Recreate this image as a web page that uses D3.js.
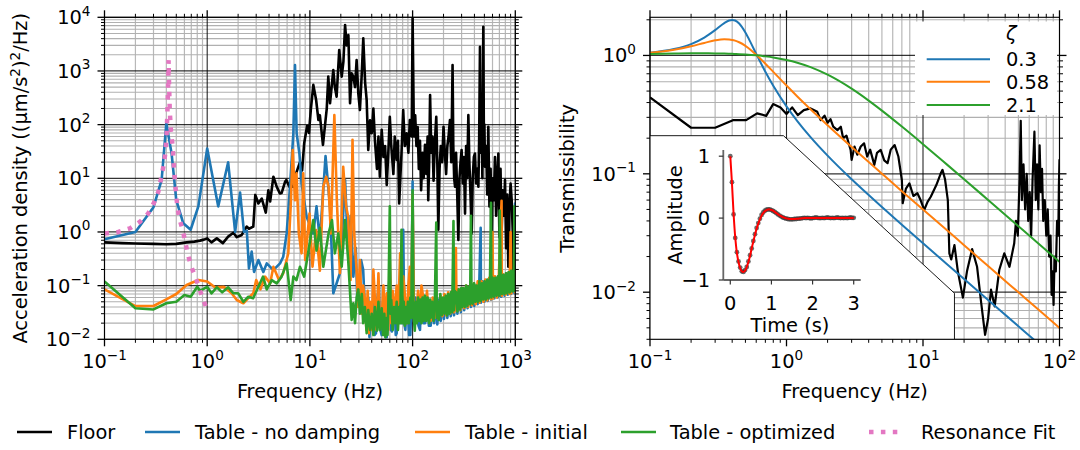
<!DOCTYPE html>
<html><head><meta charset="utf-8">
<script src="https://cdn.jsdelivr.net/npm/d3@7"></script>
<style>body{margin:0;background:#fff} text{font-family:"DejaVu Sans",sans-serif;fill:#000}</style>
</head><body><svg id="c" width="1080" height="450" xmlns="http://www.w3.org/2000/svg"></svg>
<script>
// ---------------- DATA ----------------
// Left panel: acceleration PSD, [frequency Hz, (um/s^2)^2/Hz]
const floorPSD = [[0.1,0.64],[0.15,0.62],[0.2,0.61],[0.3,0.6],[0.4,0.59],[0.5,0.6],[0.63,0.64],[0.75,0.66],[0.85,0.69],[0.93,0.72],[1.0,0.76],[1.1,0.64],[1.24,0.76],[1.42,0.62],[1.6,0.82],[1.8,0.97],[1.94,0.8],[2.17,0.88],[2.42,1.26],[2.55,1.15],[2.81,1.26],[2.94,4.9],[3.15,3.4],[3.4,4.2],[3.72,2.3],[3.94,6.0],[4.1,3.7],[4.41,10.7],[4.75,7],[5.1,5.2],[5.3,5.3],[5.73,8.6],[5.9,9.3],[6.3,7],[6.9,7],[7.3,12],[8.0,20],[8.4,14],[8.8,45],[9.4,95],[9.8,70],[10.2,187],[10.8,550],[11.5,288],[12.1,122],[12.5,150],[13.4,42],[14.6,201],[15.1,784],[15.7,250],[16.9,1040],[17.5,500],[18.2,331],[19.3,2460],[20.4,784],[21.2,1500],[22,7200],[22.8,3000],[23.7,4680],[24.6,250],[25.5,900],[26.5,784],[27.5,500],[28.5,1600],[29.6,384],[30.7,187],[32,900],[33.1,4070],[34.5,600],[35.7,288],[37,33.7],[38.5,120],[40,69],[41.5,200],[43,50],[45,15],[46.5,60],[48,10.7],[50,80],[52,25],[54,40],[56,7.5],[58,30],[60,140],[62,40],[65,12],[67,60],[70,22],[72,50],[74,3.4],[78,30],[81,187],[84,40],[87.5,69],[91,30],[94,122],[98,60],[100,10000],[103,60],[106,150],[109,40],[112,90],[115,15],[118,50],[121,6],[125,30],[128,10],[132,42],[136,12],[140,60],[142,3.9],[145,20],[148,357],[152,30],[156,60],[160,9],[165,50],[170,140],[174,20],[178,1.1],[183,15],[188,40],[194,20],[200,91],[206,30],[212,12],[218,40],[224,60],[231,122],[238,20],[245,1290],[249,40],[254,10],[259,7],[265,30],[272,5],[279,0.71],[286,10],[293,20],[300,33.7],[308,8],[316,25],[324,2.2],[332,40],[340,10],[349,151],[357,20],[366,5],[376,0.94],[385,10],[395,25],[405,29],[415,8],[426,15],[437,7],[445,60],[453,2830],[460,30],[470,200],[478,10],[488,6680],[495,40],[500,100],[507,16.4],[520,40],[533,5],[546,91],[560,3],[575,15],[589,0.225],[602,10],[618,3.9],[634,25],[650,2],[667,10],[684,29],[700,0.8],[718,15],[736,1.0],[755,6],[775,2],[794,9.3],[814,0.5],[834,5],[855,0.225],[877,3],[900,8],[922,3.9],[945,1],[957,0.17],[975,2],[990,0.5],[1000,0.94]];

const noDampingPSD = [[0.1,0.73],[0.2,1.0],[0.3,2.9],[0.36,9.3],[0.4,106],[0.45,29],[0.5,3.9],[0.585,1.45],[0.69,1.1],[0.82,3.0],[1.0,36],[1.28,3.0],[1.6,19.9],[1.87,1.0],[2.09,5.4],[2.28,1.0],[2.43,1.05],[2.55,0.21],[2.71,0.43],[2.86,0.18],[3.15,0.3],[3.52,0.18],[3.8,0.26],[4.41,0.195],[5.12,0.26],[5.5,0.346],[5.94,0.94],[6.4,7],[6.9,69],[7.16,1290],[7.43,69],[7.9,29],[8.3,8],[9.3,1.9],[10.8,0.94],[11.6,3.0],[12.5,0.7],[14.2,26],[15.7,3],[16.9,0.072],[19.6,0.17],[22,9.3],[23.5,0.5],[25,2],[26.5,0.147],[28,0.5],[29,0.05],[30,0.06],[31.5,0.3],[33,0.2],[34.5,0.03],[36,0.02],[37,0.06],[38,0.011],[39.5,0.04],[41,0.05],[42.5,0.012],[44,0.013],[45.5,0.06],[47,0.1],[48.5,0.015],[50,0.012],[51.5,0.05],[53,0.04],[54.5,0.011],[56,0.011],[58,0.05],[60,0.2],[61.5,0.015],[63,0.014],[65,0.05],[67,0.04],[68.5,0.012],[70,0.013],[72,0.05],[75,0.06],[78,0.02],[81,1.1],[83,0.02],[85,0.015],[87.5,0.05],[90,0.03],[92.5,0.012],[95,0.012],[97.5,0.05],[100,8.7],[102,0.03],[104,0.02],[107,0.06],[110,0.04],[114,0.018],[118,0.015],[121,0.05],[125,0.05],[128,0.02],[132,0.02],[136,0.05],[140,0.04],[144,0.018],[148,0.018],
[150,0.018],[156,0.045],[162,0.02],[168,0.05],[174,0.019],[181,0.055],[188,0.022],[195,0.05],[202,0.024],[210,0.06],[218,0.025],[226,0.065],[235,0.027],[244,0.07],[253,0.028],[263,0.072],[273,0.03],[284,0.08],[295,0.032],[306,0.085],[318,0.035],[330,0.09],[343,0.038],[356,0.095],[370,0.04],[384,0.1],[399,0.042],[414,0.1],[430,0.045],[446,0.11],[460,1.2],[463,0.048],[481,0.12],[500,0.05],[519,0.12],[539,0.052],[560,0.13],[581,0.055],[603,0.14],[626,0.058],[650,0.14],[675,0.06],[701,0.15],[720,0.6],[728,0.062],[756,0.16],[785,0.065],[815,0.17],[846,0.068],[878,0.18],[912,0.07],[947,0.18],[983,0.072],[995,3.4],[1000,0.1]];

const initialPSD = [[0.1,0.0855],[0.2,0.0417],[0.3,0.0417],[0.4,0.0556],[0.5,0.0698],[0.63,0.103],[0.82,0.127],[1.0,0.119],[1.19,0.093],[1.45,0.095],[1.73,0.072],[1.94,0.054],[2.25,0.047],[2.5,0.058],[2.81,0.072],[3.0,0.127],[3.3,0.085],[3.66,0.147],[4.1,0.11],[4.41,0.225],[5.0,0.127],[5.5,0.17],[6.16,0.4],[6.5,3.0],[6.8,33.7],[7.16,3.9],[7.4,12.4],[7.8,0.94],[8.3,0.4],[8.6,12.4],[9.0,0.3],[9.9,2.2],[10.6,0.225],[11.5,1.09],[12.5,0.19],[13.5,7],[14.4,10.7],[15.2,7],[16,0.94],[17.3,151],[18.3,3.9],[19.6,0.17],[21.1,16.4],[22.5,3],[23.6,1.9],[24.9,0.127],[26,52],[27,0.94],[28.6,0.17],[29.5,0.04],[30.7,0.3],[32,0.03],[33,0.1],[34.4,0.054],[35.5,0.015],[36.5,0.08],[37.5,0.013],[38.5,0.05],[40,0.015],[41.5,0.2],[43,0.054],[44.5,0.015],[46.5,0.17],[48,0.02],[50,0.023],[52,0.1],[54,0.02],[56,0.072],[58,0.015],[60,0.3],[62,0.02],[64,0.08],[67,0.0305],[70,0.1],[72,0.02],[75.6,0.4],[78,0.03],[81,0.15],[85,0.054],[88,0.02],[91,0.1],[94,0.225],[97,0.03],[100,5],[103,0.04],[106,0.02],[109,0.03],[113,0.08],[117,0.025],[122,0.1],[128,0.054],[133,0.025],[138,0.08],[143,0.03],[148,0.023],
[150,0.022],[157,0.06],[164,0.025],[171,0.055],[179,0.024],[187,0.065],[195,0.027],[204,0.07],[213,0.028],[222,0.075],[232,0.03],[242,0.08],[253,0.032],[264,0.5],[268,0.034],[280,0.085],[292,0.035],[305,0.09],[318,0.038],[332,0.1],[347,0.04],[362,0.1],[378,0.043],[395,0.11],[412,0.045],[430,0.12],[449,0.048],[469,0.12],[490,0.05],[511,0.13],[534,0.053],[557,0.14],[581,0.056],[600,1.0],[607,0.058],[634,0.15],[662,0.06],[691,0.15],[735,3.8],[740,0.065],[772,0.16],[806,0.068],[841,0.17],[878,0.07],[900,1.0],[916,0.072],[956,0.18],[998,0.075],[1000,0.2]];

const optimizedPSD = [[0.1,0.119],[0.2,0.038],[0.3,0.036],[0.4,0.047],[0.5,0.05],[0.6,0.067],[0.69,0.062],[0.8,0.095],[0.85,0.08],[1.0,0.095],[1.1,0.072],[1.24,0.093],[1.4,0.075],[1.6,0.093],[1.8,0.072],[2.0,0.072],[2.25,0.05],[2.5,0.062],[2.8,0.058],[3.15,0.095],[3.5,0.147],[3.8,0.085],[4.25,0.127],[4.75,0.11],[5.3,0.147],[5.94,0.26],[6.5,0.054],[6.9,0.147],[7.4,0.127],[8.0,0.225],[8.8,0.147],[9.6,0.4],[10.8,1.67],[11.6,0.45],[12.5,1.2],[13.5,0.225],[15.2,0.94],[16.4,1.67],[17.5,0.4],[18.9,0.94],[20.4,0.225],[22,1.67],[23.6,0.3],[25.5,0.023],[26.5,0.047],[27.5,0.02],[28.5,0.06],[29.6,0.085],[30.7,0.03],[32,0.07],[33,0.02],[34.3,0.04],[35.7,0.013],[37,0.035],[38.5,0.015],[40,0.03],[41.5,0.012],[43,0.04],[45,0.0145],[46.5,0.05],[48,0.015],[50,0.038],[51.5,0.012],[53,0.03],[54.5,0.011],[56,0.025],[57,0.012],[58,0.04],[60,3.0],[61,0.03],[62,0.054],[64,0.015],[66,0.04],[68,0.02],[70,0.05],[72,0.015],[74,0.04],[76,0.02],[78,1.1],[80,0.02],[82,0.05],[84,0.018],[86,0.04],[88,0.02],[90,0.05],[92,0.02],[95,0.06],[97,0.025],[100,6],[102,0.03],[105,0.0145],[108,0.05],[110,0.02],[113,0.06],[116,0.022],[119,0.055],[122,0.02],[125,0.06],[128,0.022],[132,0.065],[136,0.022],[140,0.06],[145,0.02],[148,0.055],
[150,0.025],[155,0.05],[160,0.022],[165,0.06],[170,1.5],[172,0.025],[175,0.05],[180,0.023],[186,0.07],[192,0.028],[198,0.06],[204,0.03],[210,0.065],[216,0.028],[222,0.07],[229,0.03],[236,0.075],[243,0.032],[250,1.6],[253,0.035],[257,0.08],[265,0.075],[273,0.033],[281,0.085],[290,0.036],[298,0.09],[303,0.04],[312,0.09],[322,0.04],[332,0.1],[342,0.042],[352,0.095],[363,0.045],[370,2.0],[374,0.1],[385,0.046],[397,0.11],[409,0.05],[421,0.1],[434,0.05],[447,0.12],[460,0.052],[474,0.11],[488,0.055],[503,0.12],[518,0.055],[534,0.13],[550,0.058],[567,0.13],[580,3.5],[584,0.06],[602,0.14],[620,0.062],[639,0.14],[658,0.065],[678,0.15],[699,0.065],[705,2.5],[720,0.15],[742,0.07],[764,0.16],[787,0.07],[811,0.17],[836,0.072],[861,0.18],[887,0.075],[914,0.19],[942,0.078],[970,0.19],[980,3.0],[990,0.08],[1000,0.2]];

const resonanceFit = [[0.1,0.94],[0.136,1.0],[0.177,1.17],[0.222,1.55],[0.267,2.23],[0.303,3.5],[0.334,5.6],[0.353,9.3],[0.374,16.4],[0.391,29],[0.402,60],[0.41,180],[0.417,600],[0.421,1600],[0.425,600],[0.432,180],[0.444,74],[0.461,38.8],[0.475,14.7],[0.497,5.3],[0.512,2.96],[0.535,1.8],[0.577,1.09],[0.608,0.69],[0.645,0.40],[0.69,0.243],[0.76,0.151],[0.83,0.093],[0.904,0.058],[0.99,0.037]];

// Right panel: transmissibility
const transFreq = [0.1,0.15,0.2,0.25,0.3,0.35,0.38,0.4,0.42,0.45,0.5,0.55,0.6,0.7,0.8,1,1.2,1.5,2,3,4,5,7,10,15,20,30,50,70,100];
const zetaLabels = ["0.3","0.58","2.1"];
const trans03 = [1.056,1.132,1.248,1.415,1.637,1.875,1.973,1.995,1.972,1.859,1.560,1.265,1.032,0.729,0.5545,0.3713,0.279,0.2041,0.1424,0.0899,0.06615,0.05245,0.03716,0.0259,0.01723,0.01291,0.0086,0.00516,0.00369,0.00258];
const trans058 = [1.053,1.1155,1.194,1.276,1.342,1.372,1.366,1.353,1.333,1.292,1.2045,1.108,1.0146,0.852,0.7266,0.5567,0.4505,0.3509,0.2573,0.1686,0.1257,0.1003,0.0714,0.0499,0.0333,0.02495,0.01663,0.00998,0.00713,0.00499];
const trans21 = [1.028,1.038,1.043,1.043,1.041,1.037,1.034,1.032,1.029,1.025,1.018,1.010,1.0015,0.982,0.962,0.916,0.8685,0.797,0.688,0.524,0.4156,0.342,0.2507,0.1781,0.1196,0.09,0.0601,0.0361,0.0258,0.01806];
const floorTrans = [[0.1,0.442],[0.2,0.245],[0.3,0.245],[0.405,0.284],[0.506,0.284],[0.609,0.324],[0.71,0.309],[0.798,0.388],[0.904,0.364],[1.0,0.32],[1.1,0.364],[1.21,0.313],[1.34,0.345],[1.5,0.357],[1.68,0.334],[1.78,0.284],[1.9,0.31],[2.0,0.27],[2.1,0.29],[2.2,0.25],[2.36,0.234],[2.5,0.25],[2.6,0.2],[2.75,0.21],[2.95,0.159],[3.0,0.131],[3.15,0.17],[3.3,0.145],[3.5,0.17],[3.7,0.181],[3.9,0.14],[4.1,0.16],[4.4,0.119],[4.6,0.15],[4.9,0.159],[5.2,0.13],[5.5,0.123],[5.8,0.16],[6.2,0.175],[6.6,0.14],[7.0,0.0887],[7.1,0.0564],[7.5,0.075],[7.95,0.083],[8.5,0.065],[9.1,0.0685],[9.6,0.06],[10.2,0.0495],[10.8,0.058],[11.4,0.064],[12.5,0.08],[13.5,0.101],[13.9,0.108],[14.5,0.09],[15.2,0.06],[15.6,0.0213],[16.1,0.0189],[17,0.025],[18,0.015],[19.6,0.009],[21,0.015],[22.9,0.0231],[24.9,0.0164],[26.7,0.00807],[28.5,0.00436],[30,0.006],[31.5,0.0105],[33.5,0.0076],[36.2,0.0154],[39.4,0.0213],[43,0.0164],[46.6,0.0259],[48,0.04],[49.5,0.03],[51,0.09],[52,0.28],[53,0.06],[54.5,0.12],[56,0.05],[57.5,0.1],[59,0.04],[60.5,0.07],[62,0.03],[63.5,0.09],[65.5,0.227],[67,0.06],[68.5,0.12],[70,0.05],[71.5,0.174],[73,0.07],[74.5,0.11],[76,0.04],[78,0.06],[80,0.03],[82,0.05],[84,0.02],[86,0.03],[87.5,0.0095],[89,0.015],[90.5,0.0078],[92,0.02],[94,0.015],[96,0.04],[98,0.03],[99,0.08],[100,0.133]];
// white cut-out behind the inset, in (frequency, transmissibility)
const insetPatch = [[0.1,0.21],[0.95,0.21],[17,0.0098],[17,0.004]];

// Inset: impulse response, sampled every ringDt seconds
const ringDt = 0.04;
const ringAmp = [1.00,0.58,0.06,-0.32,-0.55,-0.70,-0.80,-0.86,-0.87,-0.84,-0.79,-0.70,-0.60,-0.49,-0.37,-0.26,-0.16,-0.08,-0.01,0.05,0.09,0.12,0.135,0.14,0.14,0.13,0.115,0.10,0.08,0.06,0.04,0.025,0.01,0.0,-0.01,-0.015,-0.02,-0.02,-0.02,-0.015,-0.015,-0.01,-0.01,-0.005,0.0,0.005,0.0,0.005,0.0,-0.005,0.0,0.005,0.01,0.005,0.0,0.0,0.005,0.0,0.005,0.01,0.005,0.0,0.005,0.0,0.005,0.01,0.005,0.0,0.005,0.0,0.005,0.0,0.005,0.01,0.005,0.005];
const ringFit = [1.00,0.57,0.07,-0.31,-0.56,-0.71,-0.81,-0.86,-0.87,-0.85,-0.79,-0.71,-0.61,-0.49,-0.38,-0.27,-0.17,-0.09,-0.02,0.04,0.08,0.11,0.13,0.14,0.14,0.13,0.12,0.10,0.08,0.06,0.045,0.03,0.015,0.005,-0.005,-0.01,-0.015,-0.015,-0.015,-0.015,-0.012,-0.01,-0.008,-0.005,-0.003,0,0.001,0.002,0.002,0.002,0.002,0.002,0.002,0.002,0.002,0.002,0.002,0.002,0.002,0.002,0.002,0.002,0.002,0.002,0.002,0.002,0.002,0.002,0.002,0.002,0.002,0.002,0.002,0.002,0.002,0.002];
const inTicksX = [0,1,2,3];
const inTicksY = [-1,0,1];

const legendNames = ["Floor","Table - no damping","Table - initial","Table - optimized","Resonance Fit"];

// ---------------- DRAWING ----------------
const FS = 19.4;
const C = {k:"#000000", b:"#1f77b4", o:"#ff7f0e", g:"#2ca02c", p:"#e377c2"};
const svg = d3.select("#c");

const xL = d3.scaleLog().domain([0.1,1000]).range([104.5,515.3]);
const yL = d3.scaleLog().domain([0.01,10000]).range([339.3,17.3]);
const xR = d3.scaleLog().domain([0.1,100]).range([650,1059.5]);
const yR = d3.scaleLog().domain([0.004,2.1]).range([339.3,17.3]);

function decades(dom){const o=[];for(let k=Math.floor(Math.log10(dom[0])-1e-9);k<=Math.ceil(Math.log10(dom[1])+1e-9);k++){const v=Math.pow(10,k);if(v>=dom[0]*0.999&&v<=dom[1]*1.001)o.push(v);}return o;}
function minors(dom){const o=[];for(let k=Math.floor(Math.log10(dom[0]))-1;k<=Math.ceil(Math.log10(dom[1]));k++){for(let m=2;m<=9;m++){const v=m*Math.pow(10,k);if(v>=dom[0]*0.999&&v<=dom[1]*1.001)o.push(v);}}return o;}

function grid(g,x,y){
  const [xa,xb]=x.range(),[yb,ya]=y.range();
  const gg=g.append("g");
  gg.selectAll(".mx").data(minors(x.domain())).join("line").attr("x1",d=>x(d)).attr("x2",d=>x(d)).attr("y1",ya).attr("y2",yb).attr("stroke","#b8b8b8").attr("stroke-width",1.2);
  gg.selectAll(".my").data(minors(y.domain())).join("line").attr("y1",d=>y(d)).attr("y2",d=>y(d)).attr("x1",xa).attr("x2",xb).attr("stroke","#b0b0b0").attr("stroke-width",1.1);
  gg.selectAll(".Mx").data(decades(x.domain())).join("line").attr("x1",d=>x(d)).attr("x2",d=>x(d)).attr("y1",ya).attr("y2",yb).attr("stroke","#000").attr("stroke-width",1.1).attr("stroke-opacity",0.85);
  gg.selectAll(".My").data(decades(y.domain())).join("line").attr("y1",d=>y(d)).attr("y2",d=>y(d)).attr("x1",xa).attr("x2",xb).attr("stroke","#000").attr("stroke-width",1.3).attr("stroke-opacity",0.8);
}
function p10(sel,v){const e=Math.round(Math.log10(v));sel.append("tspan").text("10");sel.append("tspan").attr("dy",-8.5).attr("font-size",FS*0.7).text(e<0?"\u2212"+Math.abs(e):String(e));}
function frame(g,x,y){
  const [xa,xb]=x.range(),[yb,ya]=y.range();
  const f=g.append("g");
  f.append("rect").attr("x",xa).attr("y",ya).attr("width",xb-xa).attr("height",yb-ya).attr("fill","none").attr("stroke","#000").attr("stroke-width",1.1);
  const tk=(vals,len,w)=>{
    vals.forEach(v=>{const px=x(v);
      f.append("line").attr("x1",px).attr("x2",px).attr("y1",yb).attr("y2",yb+len).attr("stroke","#000").attr("stroke-width",w);
      f.append("line").attr("x1",px).attr("x2",px).attr("y1",ya).attr("y2",ya-len).attr("stroke","#000").attr("stroke-width",w);});
  };
  const tky=(vals,len,w)=>{
    vals.forEach(v=>{const py=y(v);
      f.append("line").attr("y1",py).attr("y2",py).attr("x1",xa).attr("x2",xa-len).attr("stroke","#000").attr("stroke-width",w);
      f.append("line").attr("y1",py).attr("y2",py).attr("x1",xb).attr("x2",xb+len).attr("stroke","#000").attr("stroke-width",w);});
  };
  tk(minors(x.domain()),3.5,1);tk(decades(x.domain()),7,1.3);
  tky(minors(y.domain()),3.5,1);tky(decades(y.domain()),7,1.3);
  decades(x.domain()).forEach(v=>{p10(f.append("text").attr("x",x(v)).attr("y",368).attr("text-anchor","middle").attr("font-size",FS),v);});
  decades(y.domain()).forEach(v=>{p10(f.append("text").attr("x",xa-14).attr("y",y(v)+7).attr("text-anchor","end").attr("font-size",FS),v);});
}
function clip(id,x,y){const [xa,xb]=x.range(),[yb,ya]=y.range();svg.append("clipPath").attr("id",id).append("rect").attr("x",xa).attr("y",ya).attr("width",xb-xa).attr("height",yb-ya);}

// ---- Left panel
clip("cl",xL,yL);
const gL=svg.append("g");
grid(gL,xL,yL);
const lineL=d3.line().x(d=>xL(d[0])).y(d=>yL(d[1]));
const dL=gL.append("g").attr("clip-path","url(#cl)");
[[floorPSD,C.k],[noDampingPSD,C.b],[initialPSD,C.o],[optimizedPSD,C.g]].forEach(([d,c])=>{
  dL.append("path").datum(d).attr("d",lineL).attr("fill","none").attr("stroke",c).attr("stroke-width",2.6).attr("stroke-linejoin","round");
});
dL.append("path").datum(resonanceFit).attr("d",lineL).attr("fill","none").attr("stroke",C.p).attr("stroke-width",4.5).attr("stroke-dasharray","4.5,7.4");
frame(gL,xL,yL);
gL.append("text").attr("x",310).attr("y",398).attr("text-anchor","middle").attr("font-size",FS).text("Frequency (Hz)");
{const t=gL.append("text").attr("transform","translate(27,178.3) rotate(-90)").attr("text-anchor","middle").attr("font-size",FS);
 t.append("tspan").text("Acceleration density ((\u03bcm/s");
 t.append("tspan").attr("dy",-7.5).attr("font-size",FS*0.7).text("2");
 t.append("tspan").attr("dy",7.5).text(")");
 t.append("tspan").attr("dy",-7.5).attr("font-size",FS*0.7).text("2");
 t.append("tspan").attr("dy",7.5).text("/Hz)");}

// ---- Right panel
clip("cr",xR,yR);
const gR=svg.append("g");
grid(gR,xR,yR);
const dR=gR.append("g").attr("clip-path","url(#cr)");
const lineR=d3.line().x(d=>xR(d[0])).y(d=>yR(d[1]));
const lineRs=d3.line().x(d=>xR(d[0])).y(d=>yR(d[1])).curve(d3.curveMonotoneX);
dR.append("path").datum(floorTrans).attr("d",lineR).attr("fill","none").attr("stroke","#000").attr("stroke-width",2.2).attr("stroke-linejoin","round");
const zetaSeries=[trans03,trans058,trans21];
const zetaColors=[C.b,C.o,C.g];
zetaSeries.forEach((s,i)=>{dR.append("path").datum(transFreq.map((f,j)=>[f,s[j]])).attr("d",lineRs).attr("fill","none").attr("stroke",zetaColors[i]).attr("stroke-width",2);});
// inset cut-out
{const pts=insetPatch.map(d=>[xR(d[0]),yR(d[1])]);
 const poly=[...pts,[xR(0.1),yR(0.004)]];
 dR.append("polygon").attr("points",poly.map(p=>p.join(",")).join(" ")).attr("fill","#fff");
 dR.append("polyline").attr("points",pts.map(p=>p.join(",")).join(" ")).attr("fill","none").attr("stroke","#000").attr("stroke-width",0.9);}
frame(gR,xR,yR);
gR.append("text").attr("x",854.7).attr("y",398).attr("text-anchor","middle").attr("font-size",FS).text("Frequency (Hz)");
gR.append("text").attr("transform","translate(574,178.3) rotate(-90)").attr("text-anchor","middle").attr("font-size",FS).text("Transmissibility");

// zeta legend
{const lg=svg.append("g");
 lg.append("rect").attr("x",915).attr("y",21.5).attr("width",142).attr("height",93.5).attr("fill","#fff");
 lg.append("text").attr("x",1006).attr("y",40).attr("font-size",FS).attr("font-style","italic").text("\u03b6");
 const ys=[59.3,81.7,105];
 zetaLabels.forEach((lab,i)=>{
   lg.append("line").attr("x1",926.7).attr("x2",990).attr("y1",ys[i]).attr("y2",ys[i]).attr("stroke",zetaColors[i]).attr("stroke-width",2);
   lg.append("text").attr("x",1006).attr("y",ys[i]+7).attr("font-size",FS).text(lab);
 });}

// ---- Inset
{const xi=d3.scaleLinear().domain([-0.17,3.17]).range([723.3,860.7]);
 const yi=d3.scaleLinear().domain([-1,1.1]).range([280,150]);
 const gi=svg.append("g");
 const pts=ringAmp.map((a,i)=>[i*ringDt,a]);
 gi.selectAll("circle").data(pts).join("circle").attr("cx",d=>xi(d[0])).attr("cy",d=>yi(d[1])).attr("r",2.4).attr("fill","#3a3a3a").attr("fill-opacity",0.75);
 gi.append("path").datum(ringFit.map((a,i)=>[i*ringDt,a])).attr("d",d3.line().x(d=>xi(d[0])).y(d=>yi(d[1])).curve(d3.curveCatmullRom)).attr("fill","none").attr("stroke","#ff0000").attr("stroke-width",2);
 gi.append("line").attr("x1",723.3).attr("x2",723.3).attr("y1",150).attr("y2",280).attr("stroke","#666").attr("stroke-width",1.8);
 gi.append("line").attr("x1",723.3).attr("x2",860.7).attr("y1",280).attr("y2",280).attr("stroke","#666").attr("stroke-width",1.8);
 inTicksX.forEach(t=>{gi.append("line").attr("x1",xi(t)).attr("x2",xi(t)).attr("y1",280).attr("y2",284.5).attr("stroke","#333").attr("stroke-width",1.2);
   gi.append("text").attr("x",xi(t)).attr("y",310).attr("text-anchor","middle").attr("font-size",FS).text(t);});
 inTicksY.forEach(t=>{gi.append("line").attr("x1",723.3).attr("x2",718.8).attr("y1",yi(t)).attr("y2",yi(t)).attr("stroke","#333").attr("stroke-width",1.2);
   gi.append("text").attr("x",710).attr("y",yi(t)+7).attr("text-anchor","end").attr("font-size",FS).text(t<0?"\u2212"+Math.abs(t):t);});
 gi.append("text").attr("x",790).attr("y",332).attr("text-anchor","middle").attr("font-size",FS).text("Time (s)");
 gi.append("text").attr("transform","translate(682,215) rotate(-90)").attr("text-anchor","middle").attr("font-size",FS).text("Amplitude");}

// ---- bottom legend
{const lg=svg.append("g");
 const items=[{c:C.k,x:17,tx:67},{c:C.b,x:145,tx:195},{c:C.o,x:415,tx:465},{c:C.g,x:621,tx:670},{c:C.p,x:869,tx:921,dot:true}];
 items.forEach((it,i)=>{
   const l=lg.append("line").attr("x1",it.x).attr("x2",it.x+35).attr("y1",432).attr("y2",432).attr("stroke",it.c);
   if(it.dot) l.attr("stroke-width",4.5).attr("stroke-dasharray","4.5,7.4"); else l.attr("stroke-width",2.6);
   lg.append("text").attr("x",it.tx).attr("y",439).attr("font-size",FS).text(legendNames[i]);
 });}
</script></body></html>
